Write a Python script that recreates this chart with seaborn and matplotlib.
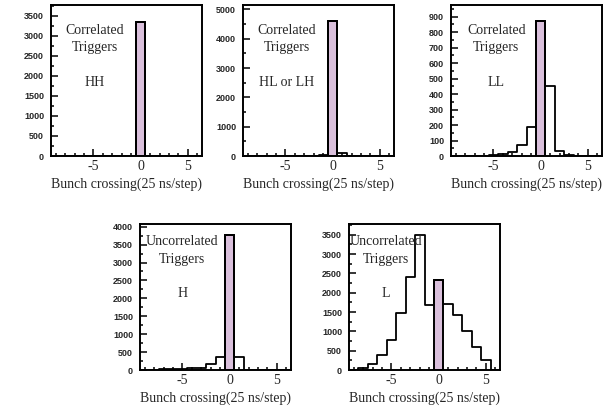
import numpy as np
import matplotlib
matplotlib.use("Agg")
import matplotlib.pyplot as plt
from matplotlib.ticker import MultipleLocator
import seaborn as sns

# bunch crossing offsets (bin centres)
crossing = [-9, -8, -7, -6, -5, -4, -3, -2, -1, 0, 1, 2, 3, 4, 5, 6]

hh = [0, 0, 0, 0, 0, 0, 0, 0, 0, 3350, 0, 0, 0, 0, 0, 0]
hl_lh = [0, 0, 0, 0, 0, 0, 2, 5, 40, 4600, 110, 3, 0, 0, 0, 0]
ll = [0, 0, 0, 2, 4, 10, 25, 72, 185, 870, 455, 32, 4, 1, 0, 0]
h = [0, 5, 15, 25, 35, 45, 65, 180, 360, 3780, 370, 8, 3, 0, 0, 0]
l = [0, 60, 160, 400, 780, 1470, 2420, 3500, 1670, 2330, 1720, 1430, 1000, 600, 250, 0]

titles = [["Correlated", "Triggers"], ["Correlated", "Triggers"], ["Correlated", "Triggers"],
          ["Uncorrelated", "Triggers"], ["Uncorrelated", "Triggers"]]
tags = ["HH", "HL or LH", "LL", "H", "L"]
panels = [hh, hl_lh, ll, h, l]
ymax = [3770, 5150, 975, 4075, 3780]
ystep = [500, 1000, 100, 500, 500]

sns.set_style("white")
plt.rcParams["axes.unicode_minus"] = False

W, H = 612, 412
boxes = [(51, 5, 151, 151), (243, 5, 151, 151), (451, 5, 151, 151),
         (140, 224, 151, 146), (349, 224, 151, 146)]
text_x = [0.29, 0.29, 0.30, 0.28, 0.245]

fig = plt.figure(figsize=(W / 100, H / 100), dpi=100)

for i, counts in enumerate(panels):
    x0, y0, w, hgt = boxes[i]
    ax = fig.add_axes([x0 / W, (H - y0 - hgt) / H, w / W, hgt / H])

    sns.histplot(x=crossing, weights=counts, discrete=True, element="step",
                 fill=False, color="black", linewidth=1.3, ax=ax)
    sns.histplot(x=[0], weights=[counts[crossing.index(0)]], discrete=True,
                 element="bars", color="#dac0dc", edgecolor="black",
                 linewidth=1.4, alpha=1, ax=ax)

    ax.set_xlim(-9.5, 6.5)
    ax.set_ylim(0, ymax[i])
    ax.set_ylabel("")
    ax.set_xlabel("Bunch crossing(25 ns/step)", fontfamily="Liberation Serif",
                  fontsize=10, labelpad=3)

    ax.xaxis.set_major_locator(MultipleLocator(5))
    ax.xaxis.set_minor_locator(MultipleLocator(1))
    ax.yaxis.set_major_locator(MultipleLocator(ystep[i]))
    ax.yaxis.set_minor_locator(MultipleLocator(ystep[i] / 2))
    ax.tick_params(which="both", direction="in", bottom=True, left=True,
                   top=False, right=False, width=1.1, color="black")
    ax.tick_params(which="major", length=5)
    ax.tick_params(which="minor", length=2.5)
    ax.tick_params(axis="x", pad=3)
    ax.tick_params(axis="y", pad=5)
    for lab in ax.get_xticklabels():
        lab.set_fontfamily("Liberation Serif")
        lab.set_fontsize(10)
    for lab in ax.get_yticklabels():
        lab.set_fontfamily("Liberation Sans")
        lab.set_fontweight("bold")
        lab.set_fontsize(6.5)
    for sp in ax.spines.values():
        sp.set_linewidth(1.4)
        sp.set_color("black")

    top = 0.83 if i < 3 else 0.877
    step = 0.11 if i < 3 else 0.117
    tagy = 0.49 if i < 3 else 0.527
    for j, line in enumerate(titles[i]):
        ax.text(text_x[i], top - j * step, line, transform=ax.transAxes,
                ha="center", va="center", fontfamily="Liberation Serif",
                fontsize=10)
    ax.text(text_x[i], tagy, tags[i], transform=ax.transAxes, ha="center",
            va="center", fontfamily="Liberation Serif", fontsize=10)

fig.savefig("out.png", dpi=100)
